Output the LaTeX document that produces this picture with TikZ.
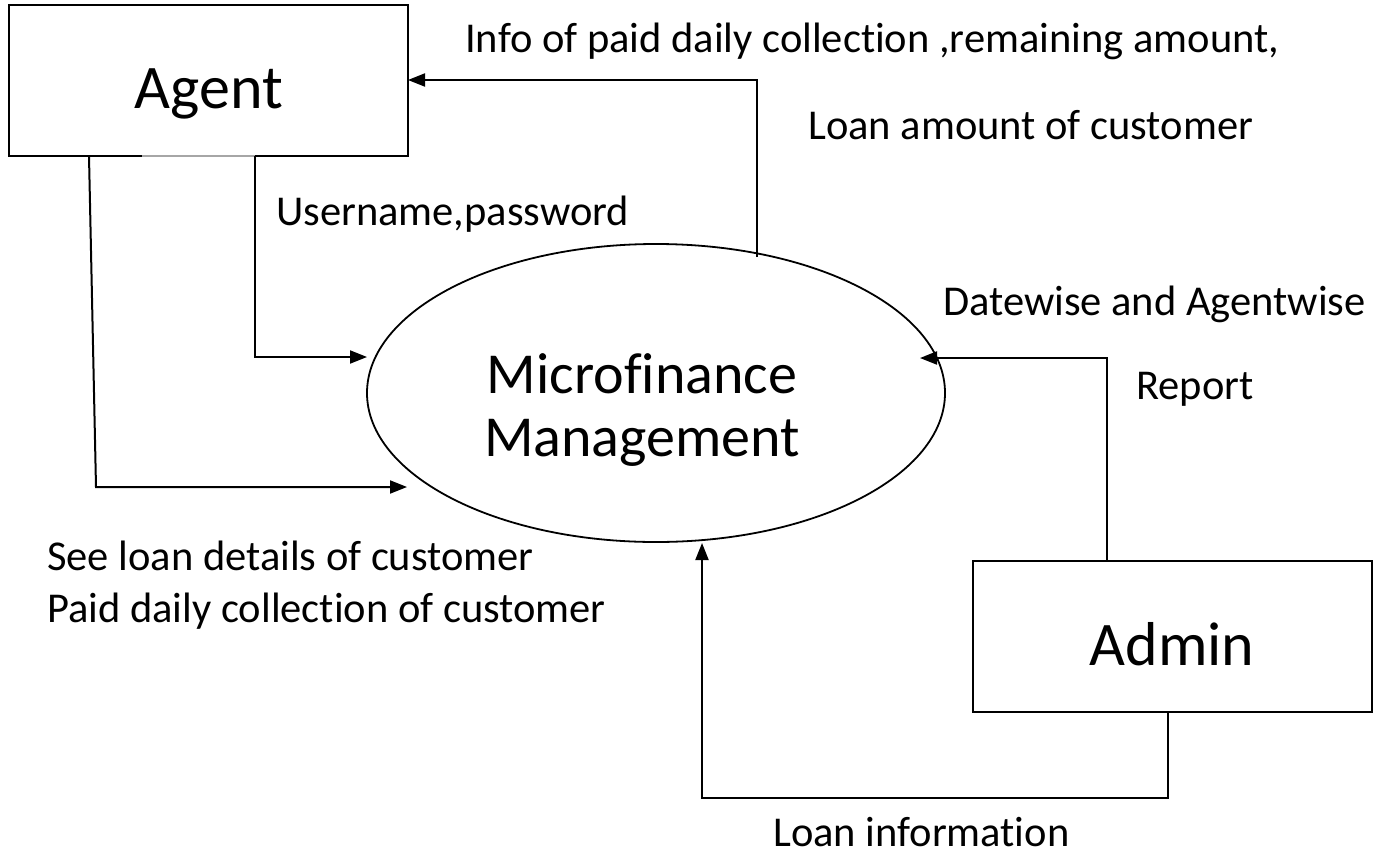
\documentclass[tikz,border=0pt]{standalone}
\usepackage{fontspec}
\setmainfont[Ligatures={NoCommon}]{Carlito}
\usetikzlibrary{arrows.meta,shapes.geometric}
\tikzset{
  conn/.style={line width=2pt,-{Triangle[length=17pt,width=13pt]}},
  lbl/.style={inner sep=0pt,anchor=base west,font=\fontsize{42.5}{50}\selectfont},
  big/.style={inner sep=0pt,anchor=base,font=\fontsize{62}{74}\selectfont},
  boxst/.style={draw,line width=2pt,minimum width=399pt,minimum height=151pt,inner sep=0pt},
}
\begin{document}
\begin{tikzpicture}[x=1pt,y=-1pt]
\useasboundingbox (0,0) rectangle (1375,854);
% boxes
\node[boxst] (agent) at (208.5,80.5) {};
\node[big] (agentt) at (209,108) {Agent};
\node[boxst] (admin) at (1172.5,636) {};
\node[big] (admint) at (1172,665) {Admin};
\node[draw,line width=1.8pt,ellipse,minimum width=578pt,minimum height=298pt,inner sep=0pt] (mf) at (656,393) {};
\node[big,font=\fontsize{58}{70}\selectfont] (mft1) at (642,393) {Microfinance};
\node[big,font=\fontsize{58}{70}\selectfont] (mft2) at (642,456) {Management};
% artifacts
\draw[line width=2.4pt,gray!70] (142,156) -- (255,156);
\draw[line width=2.8pt] (1106,561) -- (1295,561);
% coordinates
\coordinate (a1) at (255,156);
\coordinate (a1b) at (255,357);
\coordinate (a1e) at (367,357);
\coordinate (a2) at (89,156);
\coordinate (a2b) at (96,487);
\coordinate (a2e) at (407,487);
\coordinate (t1) at (757,257);
\coordinate (t1b) at (757,80);
\coordinate (t1e) at (408,80);
\coordinate (d1) at (1107,561);
\coordinate (d1b) at (1107,358);
\coordinate (d1e) at (920,358);
\coordinate (l1) at (1168,711);
\coordinate (l1b) at (1168,798);
\coordinate (l1c) at (702,798);
\coordinate (l1e) at (702,543);
% connectors
\draw[conn] (a1) -- (a1b) -- (a1e);
\draw[conn] (a2) -- (a2b) -- (a2e);
\draw[conn] (t1) -- (t1b) -- (t1e);
\draw[conn] (d1) -- (d1b) -- (d1e);
\draw[conn] (l1) -- (l1b) -- (l1c) -- (l1e);
% labels
\node[lbl] (lb1) at (465,52) {Info of paid daily collection ,remaining amount,};
\node[lbl] (lb2) at (808,139) {Loan amount of customer};
\node[lbl] (lb3) at (276,225) {Username,password};
\node[lbl] (lb4) at (943,315) {Datewise and Agentwise};
\node[lbl] (lb5) at (1136,399) {Report};
\node[lbl] (lb6) at (47,570) {See loan details of customer};
\node[lbl] (lb7) at (47,622) {Paid daily collection of customer};
\node[lbl] (lb8) at (773,846) {Loan information};
\end{tikzpicture}
\end{document}
